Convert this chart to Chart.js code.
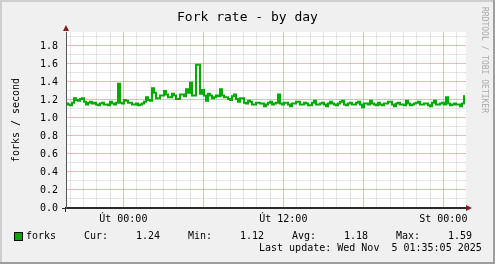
<!DOCTYPE html>
<html lang="cs">
<head>
  <meta charset="UTF-8">
  <title>Fork rate - by day</title>
  <script src="https://cdn.jsdelivr.net/npm/chart.js"></script>
  <style>
    body { margin: 0; background: #fff; }
    #wrap { position: relative; width: 495px; height: 264px; font-family: 'DejaVu Sans Mono', monospace; color: #000; }
    #wrap canvas { position: absolute; left: 0; top: 0; }
    .txt { position: absolute; font-size: 10px; line-height: 12px; white-space: pre; }
    #title { position: absolute; left: 0; width: 495px; top: 9px; text-align: center; font-size: 13px; line-height: 16px; }
    #mark { position: absolute; left: 479px; top: 7px; font-size: 8px; line-height: 10px; color: #aaa; writing-mode: vertical-rl; white-space: pre; }
    #box { position: absolute; left: 14px; top: 232px; width: 7px; height: 7px; border: 1px solid #000; }
    .num { text-align: right; width: 40px; }
  </style>
</head>
<body>
<div id="wrap">
  <canvas id="forkChart" width="495" height="264"></canvas>
  <div id="title">Fork rate - by day</div>
  <div id="mark">RRDTOOL / TOBI OETIKER</div>
  <div id="box"></div>
  <div id="legend"></div>
  <div class="txt" style="left:259px; top:242px;" id="lastUpdate"></div>
</div>
<script>
  // samples every 9 min, hours relative to Út 00:00
  const startHour = -4.3;
  const endHour = 25.7;
  const binHours = 0.15;
  const forks = [
    1.16, 1.15, 1.14, 1.17, 1.22, 1.20, 1.19, 1.21, 1.22, 1.18,
    1.15, 1.17, 1.18, 1.16, 1.17, 1.15, 1.14, 1.16, 1.17, 1.15,
    1.15, 1.14, 1.18, 1.16, 1.15, 1.17, 1.38, 1.17, 1.16, 1.20,
    1.19, 1.17, 1.17, 1.15, 1.15, 1.16, 1.14, 1.15, 1.16, 1.18,
    1.23, 1.20, 1.19, 1.33, 1.28, 1.22, 1.22, 1.25, 1.25, 1.30,
    1.26, 1.23, 1.23, 1.27, 1.25, 1.21, 1.21, 1.26, 1.26, 1.24,
    1.32, 1.28, 1.39, 1.25, 1.25, 1.59, 1.59, 1.27, 1.31, 1.25,
    1.19, 1.27, 1.25, 1.22, 1.23, 1.25, 1.24, 1.32, 1.25, 1.23,
    1.23, 1.21, 1.20, 1.24, 1.26, 1.21, 1.18, 1.22, 1.22, 1.17,
    1.16, 1.19, 1.18, 1.15, 1.15, 1.17, 1.17, 1.16, 1.16, 1.13,
    1.15, 1.17, 1.18, 1.15, 1.16, 1.17, 1.26, 1.16, 1.15, 1.17,
    1.17, 1.15, 1.13, 1.16, 1.16, 1.18, 1.18, 1.15, 1.15, 1.17,
    1.16, 1.14, 1.14, 1.17, 1.19, 1.15, 1.15, 1.16, 1.17, 1.15,
    1.13, 1.16, 1.18, 1.16, 1.15, 1.14, 1.16, 1.18, 1.19, 1.15,
    1.14, 1.16, 1.17, 1.15, 1.15, 1.17, 1.18, 1.15, 1.12, 1.16,
    1.16, 1.15, 1.19, 1.16, 1.15, 1.14, 1.17, 1.15, 1.14, 1.16,
    1.16, 1.18, 1.18, 1.15, 1.13, 1.16, 1.17, 1.15, 1.15, 1.14,
    1.19, 1.16, 1.14, 1.15, 1.16, 1.17, 1.18, 1.15, 1.15, 1.16,
    1.16, 1.14, 1.13, 1.17, 1.19, 1.15, 1.15, 1.16, 1.17, 1.15,
    1.23, 1.16, 1.14, 1.15, 1.16, 1.15, 1.15, 1.13, 1.16, 1.24
  ];
  const labelHours = [0, 12, 24];
  const labelTexts = ['Út 00:00', 'Út 12:00', 'St 00:00'];
  const yMax = 1.955;
  const legendNames = ['Cur:', 'Min:', 'Avg:', 'Max:'];
  const legendValues = ['1.24', '1.12', '1.18', '1.59'];
  const lastUpdate = 'Last update: Wed Nov  5 01:35:05 2025';

  const green = '#00aa00';
  document.getElementById('box').style.background = green;
  document.getElementById('lastUpdate').textContent = lastUpdate;

  const legend = document.getElementById('legend');
  const addText = (txt, left, cls) => {
    const d = document.createElement('div');
    d.className = 'txt' + (cls ? ' ' + cls : '');
    d.style.left = left + 'px';
    d.style.top = '230px';
    d.textContent = txt;
    legend.appendChild(d);
  };
  addText('forks', 26);
  const nameX = [84, 188, 292, 396];
  legendNames.forEach((n, i) => {
    addText(n, nameX[i]);
    addText(legendValues[i], nameX[i] + 36, 'num');
  });

  const points = forks.map((v, i) => ({ x: startHour + (i + 0.5) * binHours, y: v }));

  const frame = {
    id: 'frame',
    beforeDraw(chart) {
      const c = chart.ctx;
      const a = chart.chartArea;
      c.save();
      c.fillStyle = '#f0f0f0';
      c.fillRect(0, 0, chart.width, chart.height);
      c.fillStyle = '#cfcfcf';
      c.fillRect(0, 0, chart.width, 2);
      c.fillRect(0, 0, 2, chart.height);
      c.fillStyle = '#9e9e9e';
      c.fillRect(0, chart.height - 2, chart.width, 2);
      c.fillRect(chart.width - 2, 0, 2, chart.height);
      c.fillStyle = '#fff';
      c.fillRect(a.left, a.top, a.right - a.left, a.bottom - a.top);
      c.restore();
    },
    afterDraw(chart) {
      const c = chart.ctx;
      const a = chart.chartArea;
      c.save();
      c.fillStyle = '#7f1f1f';
      c.beginPath();
      c.moveTo(a.left - 3, a.top - 1);
      c.lineTo(a.left + 3, a.top - 1);
      c.lineTo(a.left, a.top - 7);
      c.fill();
      c.beginPath();
      c.moveTo(a.right, a.bottom - 3);
      c.lineTo(a.right, a.bottom + 3);
      c.lineTo(a.right + 6, a.bottom);
      c.fill();
      c.strokeStyle = '#2a2a2a';
      c.lineWidth = 1;
      c.beginPath();
      c.moveTo(a.left - 0.5, a.bottom);
      c.lineTo(a.left - 0.5, a.bottom + 4);
      c.stroke();
      c.restore();
    }
  };

  const tickFont = { family: 'DejaVu Sans Mono', size: 10 };
  const majorGrid = 'rgba(230,80,80,0.42)';
  const minorGrid = 'rgba(128,128,128,0.2)';

  new Chart(document.getElementById('forkChart'), {
    type: 'line',
    data: {
      datasets: [{
        label: 'forks',
        data: points,
        borderColor: green,
        borderWidth: 2,
        pointRadius: 0,
        stepped: 'middle',
        fill: false
      }]
    },
    options: {
      responsive: false,
      animation: false,
      layout: { padding: { top: 32, right: 29, bottom: 36, left: 0 } },
      plugins: { legend: { display: false }, tooltip: { enabled: false } },
      scales: {
        x: {
          type: 'linear',
          min: startHour,
          max: endHour,
          afterBuildTicks(scale) {
            const t = [];
            for (let h = Math.ceil(startHour); h <= Math.floor(endHour); h++) t.push({ value: h });
            scale.ticks = t;
          },
          afterFit(scale) { scale.height = 20; },
          ticks: {
            autoSkip: false,
            maxRotation: 0,
            padding: 1,
            color: '#000',
            font: tickFont,
            callback(v) {
              const i = labelHours.indexOf(v);
              return i >= 0 ? labelTexts[i] : '';
            }
          },
          grid: {
            drawTicks: true,
            tickLength: 4,
            tickColor: 'transparent',
            lineWidth: 1,
            color(ctx) {
              if (!ctx.tick) return 'transparent';
              return ctx.tick.value % 6 === 0 ? majorGrid : minorGrid;
            }
          },
          border: { color: '#2a2a2a', width: 2 }
        },
        y: {
          min: 0,
          max: yMax,
          afterBuildTicks(scale) {
            const t = [];
            for (let i = 0; i <= 19; i++) t.push({ value: i / 10 });
            scale.ticks = t;
          },
          afterFit(scale) { scale.width = 66; },
          ticks: {
            autoSkip: false,
            padding: 4,
            color: '#000',
            font: tickFont,
            callback(v) {
              return Math.round(v * 10) % 2 === 0 ? v.toFixed(1) : '';
            }
          },
          grid: {
            drawTicks: true,
            tickLength: 4,
            tickColor(ctx) {
              return ctx.tick && ctx.tick.value === 0 ? '#2a2a2a' : 'transparent';
            },
            color(ctx) {
              if (!ctx.tick) return 'transparent';
              return Math.round(ctx.tick.value * 10) % 2 === 0 ? majorGrid : minorGrid;
            }
          },
          border: { color: '#555', width: 1 },
          title: {
            display: true,
            text: 'forks / second',
            color: '#000',
            font: tickFont,
            padding: { top: 10, bottom: 0 }
          }
        }
      }
    },
    plugins: [frame]
  });
</script>
</body>
</html>
